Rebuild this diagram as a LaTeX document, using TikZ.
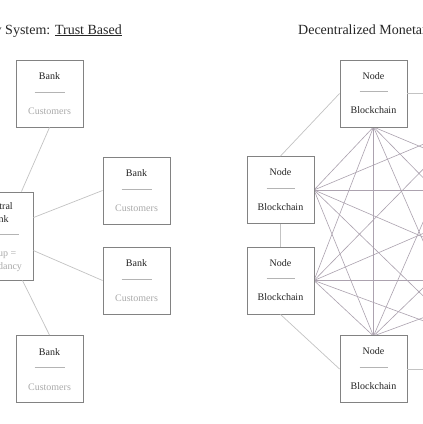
\documentclass[tikz,border=0pt]{standalone}
\usepackage{fontspec}
\setmainfont{Liberation Serif}
\usetikzlibrary{calc}
\definecolor{boxc}{RGB}{130,130,130}
\definecolor{linec}{RGB}{195,195,195}
\definecolor{meshc}{RGB}{172,162,175}
\definecolor{sepc}{RGB}{180,180,180}
\definecolor{txtc}{RGB}{35,35,35}
\definecolor{graytxt}{RGB}{170,170,170}
\tikzset{
  box/.style={draw=boxc, line width=0.9pt, minimum width=67pt, minimum height=67pt, inner sep=0pt, fill=white},
  lbl/.style={font=\fontsize{10}{12}\selectfont, text=txtc, inner sep=0pt, text height=7pt, text depth=2pt},
  glbl/.style={lbl, text=graytxt},
  sep/.style={draw=sepc, line width=0.8pt},
  conn/.style={draw=linec, line width=0.7pt},
  mesh/.style={draw=meshc, line width=0.6pt},
  ttl/.style={font=\fontsize{14}{16}\selectfont, text=black!85, inner sep=0pt}
}
\newcommand\bankbox[3]{%
  \node[box] (#1) at (#2,#3) {};
  \node[lbl] (#1t) at ($(#1.center)+(0,-16.5)$) {Bank};
  \draw[sep] ($(#1.center)+(-15,-1.5)$) -- ($(#1.center)+(15,-1.5)$);
  \node[glbl] (#1b) at ($(#1.center)+(0,18.5)$) {Customers};
}
\newcommand\nodebox[3]{%
  \node[box] (#1) at (#2,#3) {};
  \node[lbl] (#1t) at ($(#1.center)+(0,-17)$) {Node};
  \draw[sep] ($(#1.center)+(-14,-2)$) -- ($(#1.center)+(14,-2)$);
  \node[lbl] (#1b) at ($(#1.center)+(0,17.5)$) {Blockchain};
}
\begin{document}
\begin{tikzpicture}[x=1pt,y=-1pt]
\useasboundingbox (0,0) rectangle (423,424);
\fill[white] (0,0) rectangle (423,424);
\clip (0,0) rectangle (423,424);

% ---------- left: trust based ----------
\node[ttl, anchor=base east] (lt) at (122,34) {Monetary System: \underline{Trust Based}};

\node[box, minimum width=72pt, minimum height=88pt] (cb) at (-3,236) {};
\node[lbl] (cbt1) at (-2,207) {Central};
\node[lbl] (cbt2) at (-2,219.5) {Bank};
\draw[sep] (-25,234) -- (19,234);
\node[glbl] (cbb1) at (-3,254) {Backup =};
\node[glbl] (cbb2) at (-3,266.5) {Redundancy};

\bankbox{b1}{49.5}{93.5}
\bankbox{b2}{136.5}{190.5}
\bankbox{b3}{136.5}{280.5}
\bankbox{b4}{49.5}{369}

% ---------- right: decentralized ----------
\node[ttl, anchor=base west] (rt) at (298,34) {Decentralized Monetary System};

\coordinate (tlS) at (373.5,127);
\coordinate (trS) at (464.5,127);
\coordinate (l1E) at (314,190);
\coordinate (l2E) at (314,280.5);
\coordinate (r1W) at (524,190);
\coordinate (r2W) at (524,280.5);
\coordinate (blN) at (373.5,336);
\coordinate (brN) at (464.5,336);
\foreach \a/\b in {tlS/l1E,tlS/l2E,tlS/r1W,tlS/r2W,tlS/blN,tlS/brN,
                   trS/l1E,trS/l2E,trS/r1W,trS/r2W,trS/blN,trS/brN,
                   l1E/r1W,l1E/r2W,l1E/blN,l1E/brN,
                   l2E/r1W,l2E/r2W,l2E/blN,l2E/brN,
                   r1W/blN,r1W/brN,r2W/blN,r2W/brN}
  \draw[mesh] (\a) -- (\b);

% left connectors
\draw[conn] ($(cb.north east)+(-12,0)$) -- (b1.south);
\draw[conn] ($(cb.north east)+(0,26)$) -- (b2.west);
\draw[conn] ($(cb.north east)+(0,59)$) -- (b3.west);
\draw[conn] ($(cb.south east)+(-11,0)$) -- (b4.north);

\nodebox{tl}{373.5}{93.5}
\nodebox{tr}{464.5}{93.5}
\nodebox{l1}{280.5}{190}
\nodebox{l2}{280.5}{280.5}
\nodebox{r1}{557.5}{190}
\nodebox{r2}{557.5}{280.5}
\nodebox{bl}{373.5}{369}
\nodebox{br}{464.5}{369}

% ring
\draw[conn] (tl.west) -- (l1.north);
\draw[conn] (l1.south) -- (l2.north);
\draw[conn] (l2.south) -- (bl.west);
\draw[conn] (bl.east) -- (br.west);
\draw[conn] (br.east) -- (r2.south);
\draw[conn] (r2.north) -- (r1.south);
\draw[conn] (r1.north) -- (tr.east);
\draw[conn] (tr.west) -- (tl.east);
\end{tikzpicture}
\end{document}
